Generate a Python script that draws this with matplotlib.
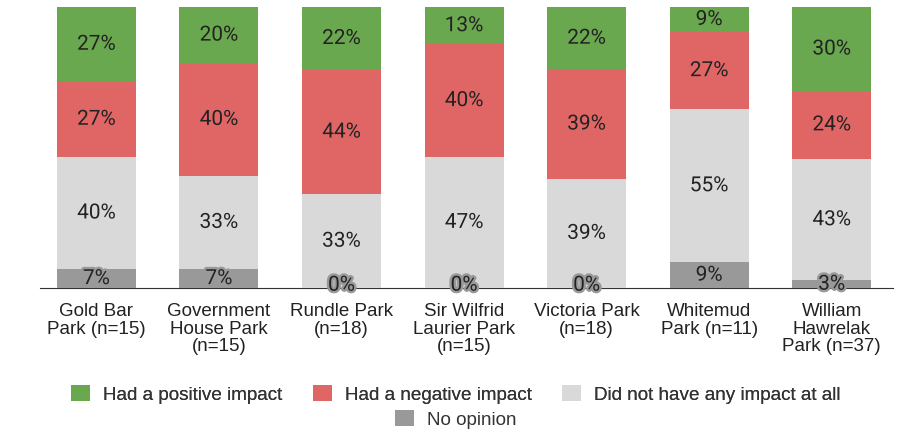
import matplotlib.pyplot as plt
import matplotlib.patheffects as pe
from matplotlib.patches import Patch
import numpy as np

plt.rcParams['font.family'] = ['Roboto', 'DejaVu Sans']
ARIAL = ['Liberation Sans', 'DejaVu Sans']

parks = ['Gold Bar\nPark (n=15)', 'Government\nHouse Park\n(n=15)', 'Rundle Park\n(n=18)',
         'Sir Wilfrid\nLaurier Park\n(n=15)', 'Victoria Park\n(n=18)', 'Whitemud\nPark (n=11)',
         'William\nHawrelak\nPark (n=37)']
# percentages per segment, bottom to top
no_opinion = [6.7, 6.7, 0.0, 0.0, 0.0, 9.1, 2.7]
no_impact = [40.0, 33.3, 33.3, 46.7, 38.9, 54.6, 43.2]
negative = [26.7, 40.0, 44.4, 40.0, 38.9, 27.3, 24.3]
positive = [26.7, 20.0, 22.2, 13.3, 22.2, 9.1, 29.7]

series = [
    ('No opinion', no_opinion, '#999999'),
    ('Did not have any impact at all', no_impact, '#d9d9d9'),
    ('Had a negative impact', negative, '#e06666'),
    ('Had a positive impact', positive, '#6aa84f'),
]

fig = plt.figure(figsize=(9.01, 4.31), dpi=100)
ax = fig.add_axes([40 / 901, (431 - 289) / 431, 853 / 901, 281 / 431])

x = np.arange(len(parks))
bottom = np.zeros(len(parks))
for name, vals, color in series:
    vals = np.array(vals)
    ax.bar(x, vals, 0.645, bottom=bottom, color=color, label=name)
    for xi, b, v in zip(x, bottom, vals):
        y = b + v / 2 if v > 0 else b + 1
        ax.text(xi, y, f'{v:.0f}%', ha='center', va='center', fontsize=15,
                color='#222222',
                path_effects=[pe.withStroke(linewidth=3.5, foreground=color)])
    bottom += vals

ax.set_xlim(-0.46, 6.5)
ax.set_ylim(0, 100)
ax.set_xticks(x)
ax.set_xticklabels(parks, fontsize=13.5, color='#222222', linespacing=1.05,
                   family=ARIAL)
ax.tick_params(axis='x', length=0, pad=10)
ax.set_yticks([])
for s in ['top', 'right', 'left']:
    ax.spines[s].set_visible(False)
ax.spines['bottom'].set_color('#333333')
ax.spines['bottom'].set_zorder(0)

def handle(c):
    return Patch(facecolor=c, edgecolor='none')

legend_kw = dict(loc='center', frameon=False, handlelength=1.0, handleheight=0.9,
                 handletextpad=0.7, columnspacing=1.6, labelcolor='#333333',
                 prop={'family': ARIAL, 'size': 13.6})
row1 = [('Had a positive impact', '#6aa84f'), ('Had a negative impact', '#e06666'),
        ('Did not have any impact at all', '#d9d9d9')]
leg1 = fig.legend([handle(c) for _, c in row1], [n for n, _ in row1],
                  bbox_to_anchor=(0.506, 1 - 395 / 431), ncol=3, **legend_kw)
leg2 = fig.legend([handle('#999999')], ['No opinion'],
                  bbox_to_anchor=(0.506, 1 - 420 / 431), **legend_kw)
fig.add_artist(leg1)

fig.savefig('out.png', dpi=100)
